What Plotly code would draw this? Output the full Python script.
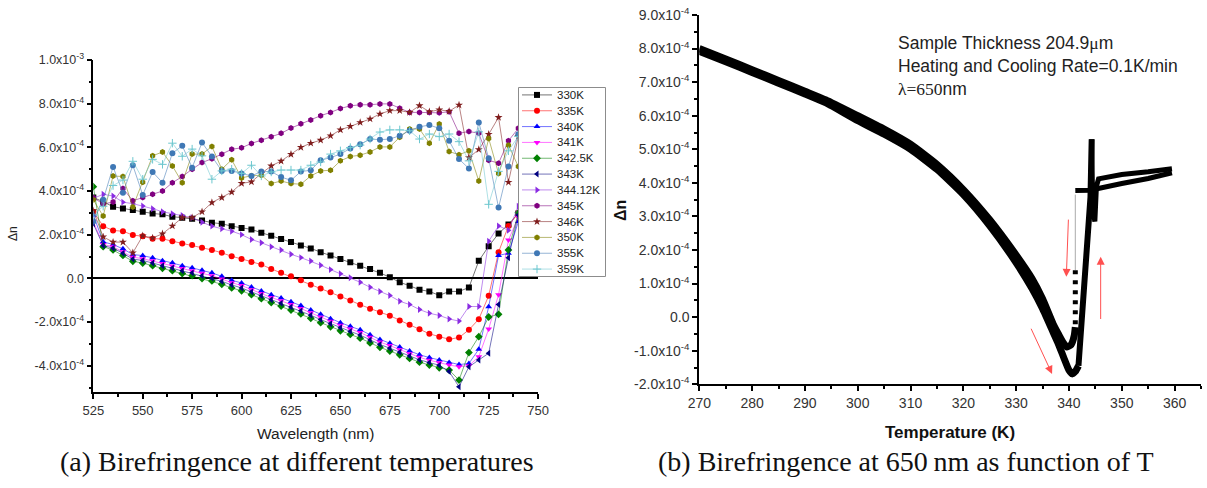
import plotly.graph_objects as go

# ---------------- Panel (a): birefringence vs wavelength (values in units of 1e-4) ----------------
wavelength = [525, 530, 535, 540, 545, 550, 555, 560, 565, 570, 575, 580, 585, 590, 595,
              600, 605, 610, 615, 620, 625, 630, 635, 640, 645, 650, 655, 660, 665, 670,
              675, 680, 685, 690, 695, 700, 705, 710, 715, 720, 725, 730, 735, 740]

dn_330 = [3.7, 3.51, 3.28, 3.2, 3.13, 3.05, 2.97, 2.93, 2.82, 2.78, 2.73, 2.65, 2.55, 2.5, 2.39,
          2.3, 2.24, 2.09, 1.95, 1.8, 1.66, 1.5, 1.37, 1.2, 1.04, 0.89, 0.74, 0.58, 0.43, 0.25,
          0.05, -0.18, -0.34, -0.52, -0.6, -0.78, -0.6, -0.6, -0.42, 0.8, 1.47, 2.05, 2.47, 2.97]
dn_335 = [3.05, 2.39, 2.19, 2.16, 1.98, 1.93, 1.81, 1.81, 1.7, 1.6, 1.53, 1.4, 1.3, 1.17, 1.01,
          0.89, 0.75, 0.63, 0.43, 0.25, 0.09, -0.09, -0.29, -0.47, -0.64, -0.83, -1.01, -1.21, -1.39, -1.55,
          -1.71, -1.93, -2.13, -2.33, -2.54, -2.67, -2.79, -2.71, -2.36, -1.87, -0.8, 1.2, 2.4, 3.0]
dn_340 = [2.9, 1.67, 1.55, 1.35, 1.09, 1.04, 0.94, 0.81, 0.71, 0.58, 0.48, 0.37, 0.25, 0.09, -0.09,
          -0.21, -0.4, -0.58, -0.75, -0.9, -1.07, -1.25, -1.45, -1.65, -1.85, -2.03, -2.2, -2.36, -2.58, -2.8,
          -2.97, -3.15, -3.33, -3.5, -3.63, -3.74, -3.85, -3.95, -3.9, -3.25, -1.3, 1.05, 1.15, 2.6]
dn_341 = [2.6, 1.55, 1.45, 1.22, 0.97, 0.9, 0.8, 0.68, 0.57, 0.45, 0.35, 0.23, 0.12, -0.03, -0.2,
          -0.33, -0.52, -0.7, -0.88, -1.03, -1.2, -1.38, -1.58, -1.78, -1.97, -2.15, -2.32, -2.48, -2.7, -2.92,
          -3.08, -3.27, -3.45, -3.62, -3.75, -3.87, -3.97, -4.05, -4.0, -3.59, -2.32, -0.75, 1.75, 2.8]
dn_3425 = [4.2, 1.45, 1.3, 1.05, 0.78, 0.7, 0.58, 0.46, 0.35, 0.22, 0.12, -0.01, -0.12, -0.27, -0.44,
           -0.57, -0.75, -0.93, -1.11, -1.27, -1.45, -1.63, -1.83, -2.03, -2.22, -2.4, -2.57, -2.74, -2.96, -3.16,
           -3.33, -3.5, -3.67, -3.84, -3.97, -4.1, -4.2, -4.66, -3.4, -2.67, -1.77, -1.65, 1.3, 3.0]
dn_343 = [2.5, 1.5, 1.38, 1.15, 0.88, 0.82, 0.7, 0.58, 0.47, 0.35, 0.25, 0.12, 0.01, -0.14, -0.3,
          -0.44, -0.62, -0.8, -0.98, -1.14, -1.31, -1.49, -1.69, -1.89, -2.08, -2.26, -2.43, -2.6, -2.82, -3.03,
          -3.2, -3.38, -3.56, -3.73, -3.86, -3.98, -4.27, -4.97, -4.05, -3.74, -3.43, -1.2, 0.94, 2.9]
dn_34412 = [3.66, 3.85, 3.77, 3.49, 3.42, 3.31, 3.19, 3.05, 2.96, 2.88, 2.78, 2.57, 2.39, 2.27, 2.16,
            2.0, 1.78, 1.63, 1.45, 1.3, 1.1, 0.95, 0.79, 0.6, 0.4, 0.21, 0.03, -0.18, -0.41, -0.6,
            -0.79, -1.05, -1.2, -1.43, -1.6, -1.7, -1.86, -1.96, -1.29, -1.29, 1.7, 2.4, 2.2, 3.3]
dn_345 = [3.7, 3.4, 3.5, 4.12, 3.55, 3.7, 3.85, 4.0, 4.38, 4.66, 5.0, 5.3, 5.48, 5.68, 5.91,
          5.98, 6.18, 6.33, 6.48, 6.64, 6.88, 7.08, 7.25, 7.45, 7.6, 7.78, 7.9, 7.95, 7.95, 7.99,
          7.99, 7.79, 7.6, 7.6, 7.6, 7.58, 7.63, 6.64, 6.73, 6.64, 5.41, 5.27, 6.3, 6.87]
dn_346 = [3.1, 1.9, 1.66, 1.66, 1.17, 1.95, 1.85, 2.04, 2.4, 2.78, 2.78, 3.05, 3.47, 3.7, 3.95,
          4.35, 4.42, 4.8, 5.15, 5.37, 5.68, 6.0, 6.19, 6.33, 6.53, 6.8, 6.96, 7.14, 7.3, 7.53,
          7.68, 7.68, 7.6, 7.91, 7.63, 7.72, 7.65, 7.94, 5.53, 5.9, 6.6, 7.37, 4.4, 6.5]
dn_350 = [3.6, 2.85, 4.69, 4.66, 3.27, 4.4, 5.61, 5.79, 5.15, 4.38, 5.69, 5.69, 6.04, 5.0, 5.43,
          4.6, 4.7, 4.72, 4.34, 4.46, 4.34, 4.31, 4.69, 4.92, 4.95, 5.38, 5.58, 5.64, 5.79, 6.02,
          6.02, 6.46, 6.84, 6.84, 6.19, 7.07, 5.81, 5.66, 5.84, 4.46, 6.41, 4.8, 6.1, 5.12]
dn_355 = [2.6, 3.6, 5.1, 3.92, 5.18, 3.82, 4.87, 4.38, 5.73, 6.07, 5.07, 6.22, 5.58, 4.92, 4.92,
          4.8, 4.69, 4.89, 4.89, 4.64, 4.49, 4.89, 4.95, 5.41, 5.53, 5.69, 5.95, 6.14, 6.38, 6.35,
          6.38, 6.53, 6.76, 6.94, 7.02, 6.87, 6.3, 5.46, 5.03, 7.14, 5.5, 3.24, 5.12, 6.6]
dn_359 = [2.9, 3.3, 4.25, 4.5, 5.36, 4.54, 5.45, 5.22, 6.19, 5.59, 5.92, 5.61, 4.54, 4.92, 5.0,
          4.8, 5.18, 4.69, 4.87, 4.96, 4.96, 4.96, 5.18, 5.33, 5.69, 5.84, 5.99, 6.1, 6.38, 6.7,
          6.8, 6.8, 6.76, 6.38, 6.61, 6.49, 6.61, 6.26, 5.38, 6.71, 3.39, 4.9, 5.84, 6.5]

series_names = ["330K", "335K", "340K", "341K", "342.5K", "343K", "344.12K",
                "345K", "346K", "350K", "355K", "359K"]
series_values = [dn_330, dn_335, dn_340, dn_341, dn_3425, dn_343, dn_34412,
                 dn_345, dn_346, dn_350, dn_355, dn_359]
series_colors = ["#000000", "#ff0000", "#0000ff", "#ff00ff", "#008000", "#000080", "#8a2be2",
                 "#800080", "#7f1d1d", "#808000", "#3f78b5", "#6cc7cf"]
series_symbols = ["square", "circle", "triangle-up", "triangle-down", "diamond", "triangle-left",
                  "triangle-right", "hexagon", "star", "hexagon", "circle", "cross-thin"]

left_yticks = [-4, -2, 0, 2, 4, 6, 8, 10]
left_yticktext = ["-4.0x10<sup>-4</sup>", "-2.0x10<sup>-4</sup>", "0.0", "2.0x10<sup>-4</sup>",
                  "4.0x10<sup>-4</sup>", "6.0x10<sup>-4</sup>", "8.0x10<sup>-4</sup>", "1.0x10<sup>-3</sup>"]

# ---------------- Panel (b): birefringence at 650 nm vs temperature (units of 1e-4) ----------------
heat_T = [270, 275, 280, 285, 290, 294, 300, 305, 310, 315, 320, 325, 330, 333, 335, 337, 338, 339,
          340, 340.6, 341.2, 341.8]
heat_dn = [7.92, 7.61, 7.29, 6.97, 6.65, 6.38, 5.85, 5.45, 5.0, 4.4, 3.65, 2.72, 1.62, 0.85, 0.25, -0.45,
           -0.8, -1.2, -1.58, -1.69, -1.62, -1.45]
rise_T = [341.8, 342.5, 343.3, 344.07, 344.3]
rise_dn = [-1.45, 0.05, 1.85, 3.57, 5.3]
spike_T = [344.3, 344.5, 344.9, 345.2, 345.6, 350, 355, 359.5]
spike_dn = [5.3, 3.2, 2.85, 3.9, 4.12, 4.25, 4.33, 4.42]
cool_upper_T = [359.5, 355, 350, 346, 344, 341.2]
cool_upper_dn = [4.3, 4.13, 3.98, 3.85, 3.78, 3.77]
cool_gap_T = [341.2, 341.2]
cool_gap_dn = [3.65, 1.4]
cool_dash_T = [341.2, 341.2]
cool_dash_dn = [1.4, -0.3]
cool_lower_T = [341.2, 341.0, 340.4, 339.65, 339, 338, 337, 335, 333, 330, 325, 320, 315, 310, 305,
                300, 294, 290, 285, 280, 275, 270]
cool_lower_dn = [-0.3, -0.55, -0.82, -0.89, -0.78, -0.5, -0.2, 0.55, 1.15, 1.85, 2.9, 3.8, 4.55, 5.15,
                 5.6, 6.0, 6.47, 6.73, 7.05, 7.37, 7.69, 8.0]

right_yticks = [-2, -1, 0, 1, 2, 3, 4, 5, 6, 7, 8, 9]
right_yticktext = ["-2.0x10<sup>-4</sup>", "-1.0x10<sup>-4</sup>", "0.0"] + \
                  ["%d.0x10<sup>-4</sup>" % v for v in range(1, 10)]

arrows = [  # (tail_T, tail_dn, head_T, head_dn)
    (332.7, -0.3, 336.8, -1.69),
    (339.9, 2.95, 339.5, 1.2),
    (346.0, -0.1, 346.0, 1.8),
]

W, H = 1207, 488
def px(x):
    return x / W
def py(y):
    return 1 - y / H

fig = go.Figure()

def rgba(col, a):
    return "rgba(%d,%d,%d,%s)" % (int(col[1:3], 16), int(col[3:5], 16), int(col[5:7], 16), a)

def marker_for(col, sym):
    if sym == "cross-thin":
        return dict(symbol=sym, size=6, color=col, line=dict(width=1, color=col))
    return dict(symbol=sym, size=6, color=col, line=dict(width=0))

for name, vals, col, sym in zip(series_names, series_values, series_colors, series_symbols):
    fig.add_trace(go.Scatter(
        x=wavelength, y=vals, name=name, mode="lines+markers",
        line=dict(color=rgba(col, 0.55), width=1),
        marker=marker_for(col, sym), xaxis="x", yaxis="y", showlegend=False))

# ---- custom legend drawn in its own overlay subplot (pixel-like units) ----
LX0, LX1, LY0, LY1 = 518, 606, 87, 277
row_h = (LY1 - LY0) / len(series_names)
fig.add_trace(go.Scatter(x=[LX0 + 0.5, LX1 - 0.5, LX1 - 0.5, LX0 + 0.5, LX0 + 0.5],
                         y=[LY0 + 0.5, LY0 + 0.5, LY1 - 0.5, LY1 - 0.5, LY0 + 0.5],
                         mode="lines", fill="toself", fillcolor="white",
                         line=dict(color="#8c8c8c", width=1), xaxis="x3", yaxis="y3",
                         showlegend=False, hoverinfo="skip"))
annotations = []
for i, (name, col, sym) in enumerate(zip(series_names, series_colors, series_symbols)):
    yc = LY0 + row_h * (i + 0.5)
    fig.add_trace(go.Scatter(x=[LX0 + 4, LX0 + 34], y=[yc, yc], mode="lines",
                             line=dict(color=rgba(col, 0.55), width=1), xaxis="x3", yaxis="y3",
                             showlegend=False, hoverinfo="skip"))
    fig.add_trace(go.Scatter(x=[LX0 + 19], y=[yc], mode="markers", marker=marker_for(col, sym),
                             xaxis="x3", yaxis="y3", showlegend=False, hoverinfo="skip"))
    annotations.append(dict(x=LX0 + 37, y=yc, xref="x3", yref="y3", text=name, showarrow=False,
                            xanchor="left", yanchor="middle",
                            font=dict(family="Liberation Sans, Arial", size=11.5, color="#222")))

thick = 7
fig.add_trace(go.Scatter(x=heat_T, y=heat_dn, mode="lines",
                         line=dict(color="black", width=thick, shape="spline", smoothing=0.5),
                         xaxis="x2", yaxis="y2", showlegend=False))
fig.add_trace(go.Scatter(x=rise_T, y=rise_dn, mode="lines", line=dict(color="black", width=6),
                         xaxis="x2", yaxis="y2", showlegend=False))
fig.add_trace(go.Scatter(x=spike_T, y=spike_dn, mode="lines", line=dict(color="black", width=5),
                         xaxis="x2", yaxis="y2", showlegend=False))
fig.add_trace(go.Scatter(x=cool_upper_T, y=cool_upper_dn, mode="lines", line=dict(color="black", width=5),
                         xaxis="x2", yaxis="y2", showlegend=False))
fig.add_trace(go.Scatter(x=cool_gap_T, y=cool_gap_dn, mode="lines", line=dict(color="#aaaaaa", width=1),
                         xaxis="x2", yaxis="y2", showlegend=False))
fig.add_trace(go.Scatter(x=cool_dash_T, y=cool_dash_dn, mode="lines",
                         line=dict(color="black", width=5, dash="4px,6px"),
                         xaxis="x2", yaxis="y2", showlegend=False))
fig.add_trace(go.Scatter(x=cool_lower_T, y=cool_lower_dn, mode="lines",
                         line=dict(color="black", width=thick, shape="spline", smoothing=0.5),
                         xaxis="x2", yaxis="y2", showlegend=False))

for tT, tD, hT, hD in arrows:
    annotations.append(dict(x=hT, y=hD, ax=tT, ay=tD, xref="x2", yref="y2", axref="x2", ayref="y2",
                            showarrow=True, arrowhead=2, arrowsize=1.6, arrowwidth=1,
                            arrowcolor="#ff5050", text=""))

sans = "Liberation Sans, Arial"
serif = "Liberation Serif, Times New Roman"
def label(x, y, text, size, family=sans, angle=0, xanchor="center", color="#222"):
    return dict(x=px(x), y=py(y), xref="paper", yref="paper", text=text, textangle=angle,
                showarrow=False, xanchor=xanchor, yanchor="middle",
                font=dict(family=family, size=size, color=color))

annotations += [
    label(13, 234, "Δn", 12, angle=-90),
    label(316, 433, "Wavelength (nm)", 15.5),
    label(621, 211, "<b>Δn</b>", 16, angle=-90, color="#111"),
    label(950, 432, "<b>Temperature (K)</b>", 17, color="#111"),
    label(296.5, 461, "(a) Birefringence at different temperatures", 28, family=serif, color="#111"),
    label(906, 461, "(b) Birefringence at 650\u2009nm as function of T", 28, family=serif, color="#111"),
    label(896, 43, "Sample Thickness 204.9<span style='font-family:Liberation Serif'>μ</span>m", 17.5, xanchor="left"),
    label(896, 65.5, "Heating and Cooling Rate=0.1K/min", 17.5, xanchor="left"),
    label(896, 89, "<span style='font-family:Liberation Serif'>λ=650</span>nm", 17.5, xanchor="left"),
]

common = dict(showline=True, linecolor="black", ticks="outside", tickcolor="black",
              showgrid=False, mirror=False)

fig.update_layout(
    width=W, height=H, margin=dict(l=0, r=0, t=0, b=0, autoexpand=False),
    paper_bgcolor="white", plot_bgcolor="rgba(0,0,0,0)",
    font=dict(family=sans, size=12, color="#222"),
    showlegend=False,
    xaxis=dict(domain=[px(93.3), px(538.1)], range=[525, 750],
               tickvals=[525, 550, 575, 600, 625, 650, 675, 700, 725, 750],
               linewidth=1.5, ticklen=5, tickwidth=1.5, tickfont=dict(size=13, color="#333"),
               minor=dict(tickmode="linear", tick0=525, dtick=12.5, ticks="outside", ticklen=3, tickcolor="black"),
               anchor="y", zeroline=False, **common),
    yaxis=dict(domain=[py(392.3), py(60)], range=[-5.22, 10.0], tickvals=left_yticks, ticktext=left_yticktext,
               linewidth=1.5, ticklen=5, tickwidth=1.5, tickfont=dict(size=12.5, color="#333"),
               minor=dict(tickmode="linear", tick0=0, dtick=1, ticks="outside", ticklen=3, tickcolor="black"),
               anchor="x", zeroline=True, zerolinecolor="black", zerolinewidth=1.5, **common),
    xaxis2=dict(domain=[px(699.3), px(1201)], range=[270, 365], tickvals=list(range(270, 361, 10)),
                linewidth=2, ticklen=5, tickwidth=2, tickfont=dict(size=14, color="#333"),
                minor=dict(tickmode="linear", tick0=270, dtick=5, ticks="outside", ticklen=3, tickcolor="black"),
                anchor="y2", zeroline=False, **common),
    yaxis2=dict(domain=[py(384.3), py(15)], range=[-2, 9], tickvals=right_yticks, ticktext=right_yticktext,
                linewidth=2, ticklen=5, tickwidth=2, tickfont=dict(size=14, color="#333"),
                minor=dict(tickmode="linear", tick0=0, dtick=0.5, ticks="outside", ticklen=3, tickcolor="black"),
                anchor="x2", zeroline=False, **common),
    xaxis3=dict(domain=[px(LX0), px(LX1)], range=[LX0, LX1], visible=False, anchor="y3", fixedrange=True),
    yaxis3=dict(domain=[py(LY1), py(LY0)], range=[LY1, LY0], visible=False, anchor="x3", fixedrange=True),
    annotations=annotations,
)

fig.write_html("out.html", config={"displayModeBar": False},
               post_script="document.body.style.margin='0px';")
